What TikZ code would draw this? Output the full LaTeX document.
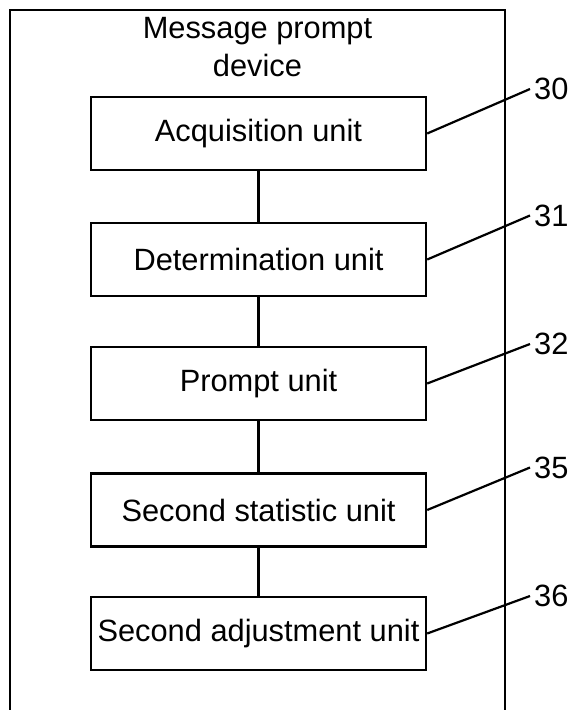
\documentclass[tikz,border=0pt]{standalone}
\usepackage{fontspec}
\setmainfont{Liberation Sans}
\begin{document}
\begin{tikzpicture}[x=1pt,y=-1pt,
  unitbox/.style={draw,line width=2.4pt,minimum width=335pt,minimum height=73pt,inner sep=0pt,
    font=\fontsize{30.8}{38}\selectfont},
  reflabel/.style={anchor=west,inner sep=4pt,font=\fontsize{30.8}{38}\selectfont},
  leader/.style={line width=2.2pt},
  link/.style={line width=2.2pt}]
\useasboundingbox (0,0) rectangle (573,710);
% device frame, open at the bottom
\draw[line width=2.7pt] (10,710) -- (10,10) -- (505,10) -- (505,710);
\node[anchor=north,inner sep=0pt,align=center,font=\fontsize{30.8}{38}\selectfont]
  (title) at (257.5,17.5) {Message prompt\\device};
% functional units
\node[unitbox] (b30) at (258.5,133.5) {Acquisition unit};
\node[unitbox] (b31) at (258.5,259.5) {Determination unit};
\node[unitbox] (b32) at (258.5,383.5) {Prompt unit};
\node[unitbox] (b35) at (258.5,510) {Second statistic unit};
\node[unitbox] (b36) at (258.5,633.5) {Second adjustment unit};
\draw[link] (b30.south) -- (b31.north);
\draw[link] (b31.south) -- (b32.north);
\draw[link] (b32.south) -- (b35.north);
\draw[link] (b35.south) -- (b36.north);
% reference numerals
\node[reflabel] (n30) at (530,89) {30};
\node[reflabel] (n31) at (530,215.5) {31};
\node[reflabel] (n32) at (530,344) {32};
\node[reflabel] (n35) at (530,467.5) {35};
\node[reflabel] (n36) at (530,596) {36};
\draw[leader] (b30.east) -- (n30.west);
\draw[leader] (b31.east) -- (n31.west);
\draw[leader] (b32.east) -- (n32.west);
\draw[leader] (b35.east) -- (n35.west);
\draw[leader] (b36.east) -- (n36.west);
\end{tikzpicture}
\end{document}
